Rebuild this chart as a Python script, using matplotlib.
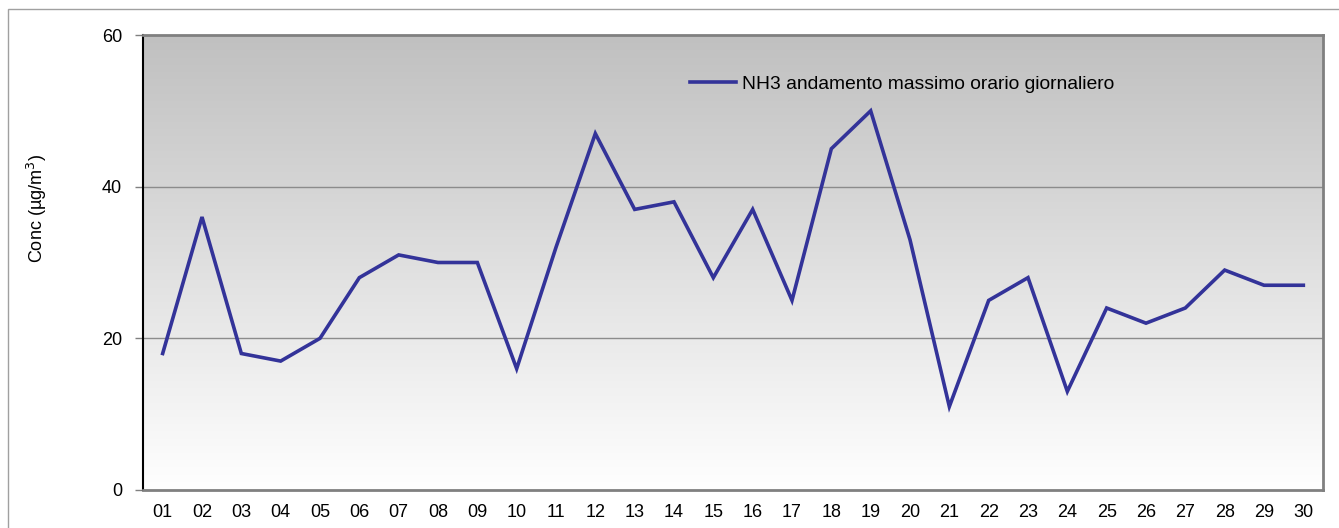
import matplotlib
matplotlib.use("Agg")
import matplotlib.pyplot as plt
import numpy as np
from matplotlib.patches import Rectangle

days = ["01","02","03","04","05","06","07","08","09","10","11","12","13","14","15",
        "16","17","18","19","20","21","22","23","24","25","26","27","28","29","30"]
nh3 = [18, 36, 18, 17, 20, 28, 31, 30, 30, 16, 32, 47, 37, 38, 28,
       37, 25, 45, 50, 33, 11, 25, 28, 13, 24, 22, 24, 29, 27, 27]
series_label = "NH3 andamento massimo orario giornaliero"
yticks = [0, 20, 40, 60]

plt.rcParams['font.family'] = ['Liberation Sans', 'DejaVu Sans']

W, H = 1339, 528
fig = plt.figure(figsize=(W/100, H/100), dpi=100)
fig.patch.set_facecolor('white')

# outer chart border
fig.patches.append(Rectangle((8/W, -0.5), 2.0, (H-9)/H + 0.5, transform=fig.transFigure,
                             fill=False, edgecolor='#a0a0a0', linewidth=1.0))

left, right, top, bottom = 143, 1323, 35, 490
ax = fig.add_axes([left/W, 1-bottom/H, (right-left)/W, (bottom-top)/H])

# gradient background
grad = np.linspace(192, 255, 256).reshape(-1, 1) / 255.0
grad_rgb = np.dstack([grad, grad, grad])
ax.imshow(grad_rgb, extent=[0, 1, 0, 1], transform=ax.transAxes, aspect='auto', zorder=0)

x = np.arange(len(days))
ax.plot(x, nh3, color='#333399', linewidth=2.6, label=series_label, zorder=3,
        solid_joinstyle='miter')

ax.set_xlim(-0.5, len(days)-0.5)
ax.set_ylim(0, 60)
ax.set_yticks(yticks)
ax.set_xticks(x)
ax.set_xticklabels(days)
ax.tick_params(axis='x', length=0, pad=10, labelsize=13)
ax.tick_params(axis='y', length=6, width=1, pad=9, labelsize=13, color='#808080')

for yv in [20, 40]:
    ax.axhline(yv, color='#8c8c8c', linewidth=1.0, zorder=1)

for s in ['top', 'right']:
    ax.spines[s].set_color('#808080')
    ax.spines[s].set_linewidth(2.0)
ax.spines['left'].set_color('black')
ax.spines['left'].set_linewidth(1.5)
ax.spines['bottom'].set_color('#808080')
ax.spines['bottom'].set_linewidth(2.0)

ax.set_ylabel("Conc (\u00b5g/m$^3$)", fontsize=13)
ax.yaxis.set_label_coords((37-left)/(right-left), 1-(209-top)/(bottom-top))
ax.yaxis.label.set_verticalalignment('center')

leg = ax.legend(loc='upper left', bbox_to_anchor=((690-left)/(right-left), 1-(75-top)/(bottom-top)),
                frameon=False, fontsize=13.9, handlelength=2.4, handletextpad=0.3,
                borderaxespad=0, borderpad=0)

fig.savefig("out.png", dpi=100)
